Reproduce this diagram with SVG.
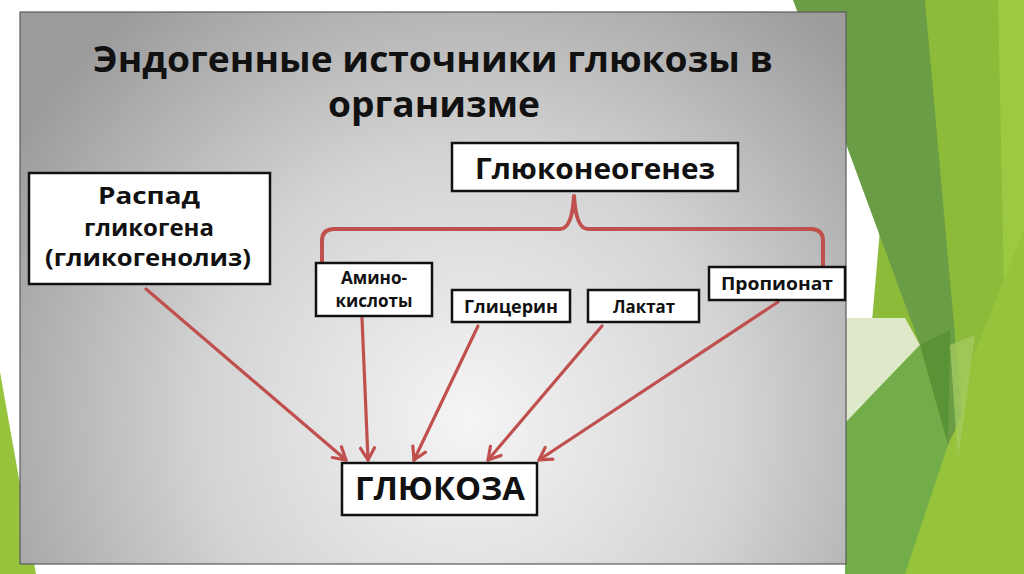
<svg xmlns="http://www.w3.org/2000/svg" width="1024" height="574" viewBox="0 0 1024 574">
  <defs>
    <radialGradient id="panelGrad" gradientUnits="userSpaceOnUse" cx="470" cy="420" r="530">
      <stop offset="0" stop-color="#f5f5f5"/>
      <stop offset="0.5" stop-color="#d4d4d4"/>
      <stop offset="1" stop-color="#9c9c9c"/>
    </radialGradient>
    <marker id="arrow" markerUnits="userSpaceOnUse" markerWidth="20" markerHeight="20" viewBox="0 0 20 20" refX="17" refY="10" orient="auto">
      <path d="M5,3 L17,10 L5,17" fill="none" stroke="#c0504d" stroke-width="3.2" stroke-linecap="round" stroke-linejoin="round"/>
    </marker>
    <style>
      .box { fill: #ffffff; stroke: #111111; stroke-width: 2.5; }
      .t { font-family: "Open Sans", "DejaVu Sans", sans-serif; font-weight: 700; fill: #111111; text-anchor: middle; }
      .conn { fill: none; stroke: #c0504d; stroke-width: 3.2; stroke-linecap: round; }
      .brace { fill: none; stroke: #c0504d; stroke-width: 4; stroke-linejoin: round; }
    </style>
  </defs>

  <!-- slide background -->
  <rect x="0" y="0" width="1024" height="574" fill="#ffffff"/>
  <g id="decor">
    <polygon points="0,372 36,574 0,574" fill="#96c43c"/>
    <polygon points="900,0 1024,0 1024,574 850,574" fill="#8cbb3a"/>
    <polygon points="998,0 1024,0 1024,574 1010,574" fill="#9bc941"/>
    <polygon points="1024,230 1024,574 885,574" fill="#95c33b"/>
    <polygon points="845,318 905,318 920,345 845,423" fill="#dde9c9"/>
    <polygon points="793,0 925,0 962,415 948,445 920,345" fill="#6b9d46"/>
    <polygon points="845,423 920,345 948,445 905,574 845,574" fill="#72ad4a"/>
    <polygon points="920,345 950,330 948,445" fill="#5a9236"/>
    <polygon points="950,345 975,335 958,460" fill="#a3cb5f" opacity="0.8"/>
  </g>

  <!-- grey panel -->
  <rect x="20" y="12" width="826" height="552" fill="url(#panelGrad)" stroke="#5a5a5a" stroke-width="1.2"/>

  <g id="title">
    <text class="t" x="433" y="72" font-size="35" textLength="680" lengthAdjust="spacingAndGlyphs">Эндогенные источники глюкозы в</text>
    <text class="t" x="434" y="117" font-size="35" textLength="212" lengthAdjust="spacingAndGlyphs">организме</text>
  </g>

  <g id="connectors">
    <path class="brace" d="M322,264 L322,241 Q322,229 334,229 L560,229 Q572,229 574,196 Q576,229 588,229 L811,229 Q823,229 823,241 L823,267"/>
    <line class="conn" x1="146" y1="289" x2="346" y2="460" marker-end="url(#arrow)"/>
    <line class="conn" x1="362" y1="318" x2="368" y2="460" marker-end="url(#arrow)"/>
    <line class="conn" x1="478" y1="326" x2="414" y2="460" marker-end="url(#arrow)"/>
    <line class="conn" x1="602" y1="326" x2="488" y2="460" marker-end="url(#arrow)"/>
    <line class="conn" x1="778" y1="302" x2="539" y2="460" marker-end="url(#arrow)"/>
  </g>

  <g id="node-raspad">
    <rect class="box" x="29" y="173" width="241" height="111"/>
    <text class="t" x="149" y="204" font-size="23" textLength="102" lengthAdjust="spacingAndGlyphs">Распад</text>
    <text class="t" x="149" y="236" font-size="23" textLength="130" lengthAdjust="spacingAndGlyphs">гликогена</text>
    <text class="t" x="148" y="266" font-size="23" textLength="206" lengthAdjust="spacingAndGlyphs">(гликогенолиз)</text>
  </g>

  <g id="node-gluconeogenesis">
    <rect class="box" x="452" y="143" width="286" height="48"/>
    <text class="t" x="595" y="179" font-size="29" textLength="240" lengthAdjust="spacingAndGlyphs">Глюконеогенез</text>
  </g>

  <g id="node-amino">
    <rect class="box" x="316" y="263" width="116" height="53"/>
    <text class="t" x="374" y="284" font-size="17" textLength="66" lengthAdjust="spacingAndGlyphs">Амино-</text>
    <text class="t" x="374" y="307" font-size="17" textLength="77" lengthAdjust="spacingAndGlyphs">кислоты</text>
  </g>

  <g id="node-glycerin">
    <rect class="box" x="452" y="290" width="118" height="32"/>
    <text class="t" x="511" y="313" font-size="18" textLength="94" lengthAdjust="spacingAndGlyphs">Глицерин</text>
  </g>

  <g id="node-lactate">
    <rect class="box" x="588" y="290" width="111" height="32"/>
    <text class="t" x="644" y="313" font-size="18" textLength="62" lengthAdjust="spacingAndGlyphs">Лактат</text>
  </g>

  <g id="node-propionate">
    <rect class="box" x="709" y="267" width="136" height="33"/>
    <text class="t" x="777" y="290" font-size="18" textLength="112" lengthAdjust="spacingAndGlyphs">Пропионат</text>
  </g>

  <g id="node-glucose">
    <rect class="box" x="342" y="463" width="195" height="52"/>
    <text class="t" x="440" y="500" font-size="33" textLength="170" lengthAdjust="spacingAndGlyphs">ГЛЮКОЗА</text>
  </g>
</svg>
